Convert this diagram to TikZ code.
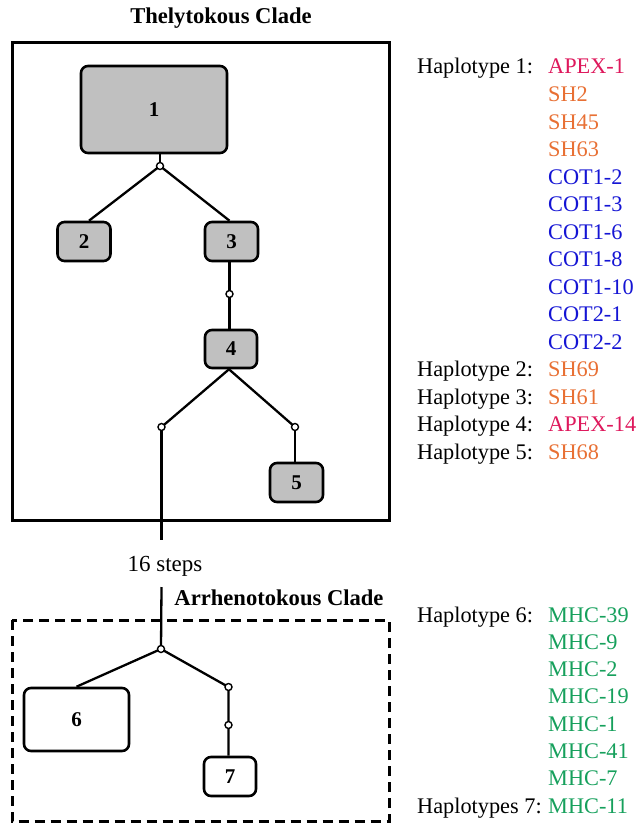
\documentclass[tikz,border=0pt]{standalone}
\usepackage{fontspec}
\setmainfont{Liberation Serif}
\definecolor{apexc}{RGB}{222,24,92}
\definecolor{shc}{RGB}{232,112,52}
\definecolor{cotc}{RGB}{20,20,212}
\definecolor{mhcc}{RGB}{22,160,92}
\definecolor{nodegray}{RGB}{192,192,192}
\tikzset{
  hap/.style={draw=black, line width=2.6pt, rounded corners=7pt, inner sep=0pt,
    font=\fontsize{21}{24}\selectfont\bfseries},
  thel/.style={hap, fill=nodegray},
  arrh/.style={hap, fill=white},
  link/.style={line width=2.3pt},
  junc/.style={circle, draw=black, fill=white, line width=1.4pt, minimum size=7pt, inner sep=0pt},
  clade/.style={font=\fontsize{22.6}{26}\selectfont\bfseries},
  lab/.style={anchor=base west, inner sep=0pt, font=\fontsize{22.3}{26}\selectfont},
}
\begin{document}
\begin{tikzpicture}[x=1pt,y=-1pt]
\useasboundingbox (0,0) rectangle (640,824);
% clade boxes
\draw[line width=3pt] (12,43) rectangle (389,520);
\draw[line width=3pt, dash pattern=on 10pt off 6pt] (12,620) rectangle (389,821.5);
\node[clade] (tclade) at (221,18) {Thelytokous Clade};
\node[clade] (aclade) at (279,598) {Arrhenotokous Clade};
% haplotype nodes
\node[thel, minimum width=146pt, minimum height=87pt] (n1) at (154,109.5) {1};
\node[thel, minimum width=53pt, minimum height=39pt] (n2) at (84,241.5) {2};
\node[thel, minimum width=53pt, minimum height=39pt] (n3) at (231.5,241.5) {3};
\node[thel, minimum width=52pt, minimum height=38pt] (n4) at (231,349) {4};
\node[thel, minimum width=53pt, minimum height=39pt] (n5) at (296.5,482.5) {5};
\node[arrh, minimum width=105pt, minimum height=63pt] (n6) at (76.5,719.5) {6};
\node[arrh, minimum width=52pt, minimum height=39pt] (n7) at (230,776.5) {7};
% junction positions
\coordinate (j1) at (160,166);
\coordinate (j2) at (229.5,294);
\coordinate (jl) at (161.5,427);
\coordinate (jr) at (295,427);
\coordinate (cut1) at (161.5,540);
\coordinate (cut2) at (161.5,587);
\coordinate (j3) at (161,649);
\coordinate (j4) at (228.5,687);
\coordinate (j5) at (228.5,725);
% connectors
\draw[link] (j1 |- n1.south) -- (j1);
\draw[link] (j1) -- ([xshift=5pt]n2.north);
\draw[link] (j1) -- ([xshift=-2pt]n3.north);
\draw[link] (j2 |- n3.south) -- (j2) -- (j2 |- n4.north);
\draw[link] ([xshift=-2pt]n4.south) -- (jl);
\draw[link] ([xshift=-2pt]n4.south) -- (jr);
\draw[link] (jr) -- (jr |- n5.north);
\draw[link] (jl) -- (cut1);
\draw[link] (cut2) -- (j3);
\draw[link] (j3) -- (n6.north);
\draw[link] (j3) -- (j4) -- (j5) -- (j5 |- n7.north);
\node[font=\fontsize{23}{26}\selectfont] (steps) at (165,566) {16 steps};
% junction circles
\foreach \j in {j1,j2,jl,jr,j3,j4,j5} \node[junc] at (\j) {};
% legend, thelytokous
\node[lab] (h1) at (417,74) {Haplotype 1:};
\node[lab] (h2) at (417,376.5) {Haplotype 2:};
\node[lab] (h3) at (417,404) {Haplotype 3:};
\node[lab] (h4) at (417,431.5) {Haplotype 4:};
\node[lab] (h5) at (417,459) {Haplotype 5:};
\foreach \t/\c [count=\i from 0] in {APEX-1/apexc,SH2/shc,SH45/shc,SH63/shc,COT1-2/cotc,COT1-3/cotc,COT1-6/cotc,COT1-8/cotc,COT1-10/cotc,COT2-1/cotc,COT2-2/cotc,SH69/shc,SH61/shc,APEX-14/apexc,SH68/shc}
  \node[lab, text=\c] (t\i) at (548,74+27.5*\i) {\t};
% legend, arrhenotokous
\node[lab] (h6) at (417,622) {Haplotype 6:};
\node[lab] (h7) at (417,813) {Haplotypes 7:};
\foreach \t [count=\i from 0] in {MHC-39,MHC-9,MHC-2,MHC-19,MHC-1,MHC-41,MHC-7,MHC-11}
  \node[lab, text=mhcc] (m\i) at (548,622+27.3*\i) {\t};
\end{tikzpicture}
\end{document}
